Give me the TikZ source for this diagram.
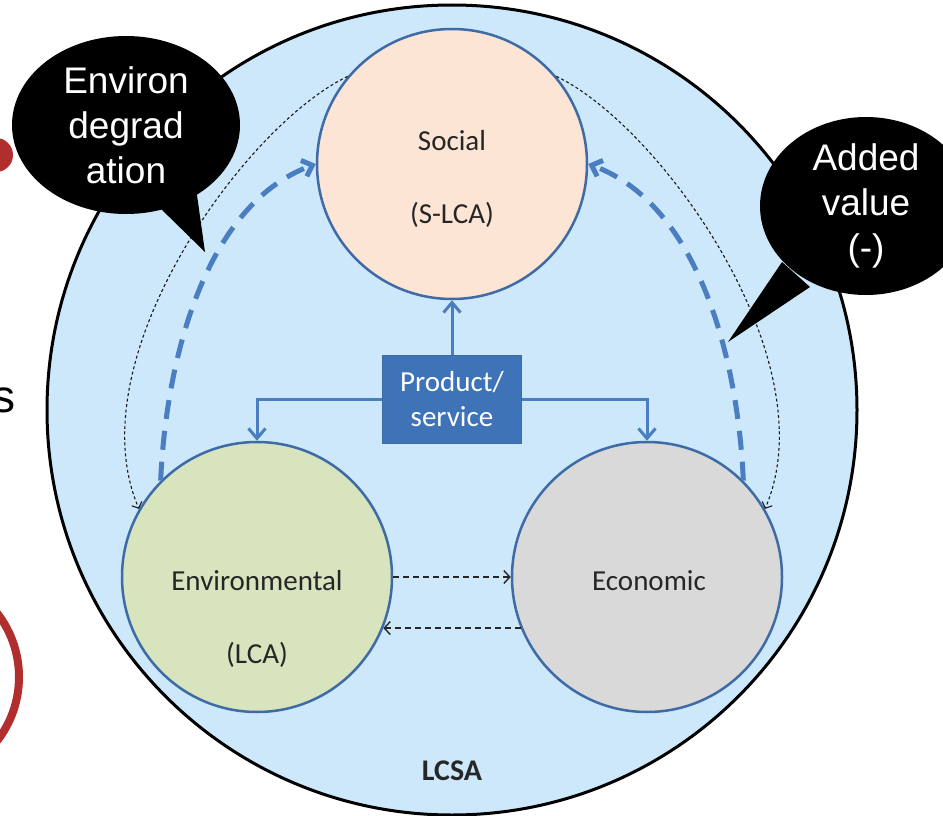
\documentclass[tikz,border=0pt]{standalone}
\usepackage{fontspec}
\setmainfont{Carlito}
\newfontfamily\bubblefont{Liberation Sans}
\usetikzlibrary{arrows.meta,shapes.geometric,positioning}
\definecolor{lcsablue}{RGB}{204,232,250}
\definecolor{rimblue}{RGB}{62,106,166}
\definecolor{arrowblue}{RGB}{74,126,192}
\definecolor{boxblue}{RGB}{62,115,184}
\definecolor{socialfill}{RGB}{252,229,212}
\definecolor{envfill}{RGB}{215,228,189}
\definecolor{econfill}{RGB}{217,217,217}
\definecolor{markred}{RGB}{176,46,46}

\begin{document}
\begin{tikzpicture}[x=1pt, y=-1pt,
    pillar/.style={circle, draw=rimblue, line width=2.5pt, minimum size=270pt, inner sep=0pt},
    pillarlabel/.style={anchor=base, font=\fontsize{29}{35}\selectfont, text=black!85},
    bubble/.style={ellipse, fill=black, inner sep=0pt, minimum height=178pt, text=white, align=center,
        font=\bubblefont\fontsize{37}{45}\selectfont},
    flow/.style={arrowblue, line width=3pt, -{Straight Barb[length=10pt,width=17pt]}},
    feedback/.style={arrowblue, line width=5pt, dash pattern=on 19pt off 12pt,
        -{Straight Barb[length=9pt,width=17pt]}},
    exchange/.style={black!85, line width=1.4pt, dash pattern=on 6pt off 4pt,
        -{Straight Barb[length=6pt,width=13pt]}},
    spillover/.style={black!90, line width=1.1pt, dash pattern=on 3pt off 2.5pt,
        -{Straight Barb[length=5pt,width=11pt]}}]
    \useasboundingbox (0,0) rectangle (943,816);
    \fill[white] (0,0) rectangle (943,816);
    \fill[markred] (-4,155) circle (17);
    \draw[markred, line width=8pt] (-85,677) circle (104);
    \node[anchor=base east, font=\bubblefont\fontsize{46}{50}\selectfont, inner sep=0pt] (cutletter) at (16,412) {s};

    \node[circle, fill=lcsablue, draw=black, line width=3pt, minimum size=810pt] (lcsa) at (452,410) {};
    \node[pillarlabel, font=\bfseries\fontsize{30}{34}\selectfont] (lcsaname) at (452,780) {LCSA};

    \node[pillar, fill=socialfill] (social) at (452,164) {};
    \node[pillar, fill=envfill] (env) at (257,577) {};
    \node[pillar, fill=econfill] (econ) at (647,577) {};
    \node[pillarlabel] at (452,150) {Social};
    \node[pillarlabel] at (452,223) {(S-LCA)};
    \node[pillarlabel] at (257,590) {Environmental};
    \node[pillarlabel] at (257,663) {(LCA)};
    \node[pillarlabel] at (649,590) {Economic};

    \node[fill=boxblue, draw=rimblue, line width=1pt, minimum width=139pt, minimum height=88pt,
        text=white, align=center, font=\fontsize{29}{35}\selectfont] (product) at (452,399) {Product/\\service};

    \draw[flow] (product.north) -- (social.south);
    \draw[flow] (product.west) -| (env.north);
    \draw[flow] (product.east) -| (econ.north);

    \draw[feedback] (env.135) .. controls (166,360) and (205,205) .. (social.west);
    \draw[feedback] (econ.45) .. controls (738,360) and (699,205) .. (social.east);

    \draw[spillover] (social.140) .. controls (245,125) and (75,360) .. (env.150);
    \draw[spillover] (social.40) .. controls (659,125) and (829,360) .. (econ.30);

    \draw[exchange] (env.east) -- (econ.west);
    \draw[exchange] (econ.202) -- (env.338);

    \fill (157,205) -- (205,252) -- (197,195) -- cycle;
    \node[bubble, minimum width=228pt] (degrad) at (126,125) {Environ\\degrad\\ation};
    \fill (782,262) -- (728,342) -- (810,287) -- cycle;
    \node[bubble, minimum width=212pt] (added) at (866,206) {Added\\value\\(-)};
\end{tikzpicture}
\end{document}
